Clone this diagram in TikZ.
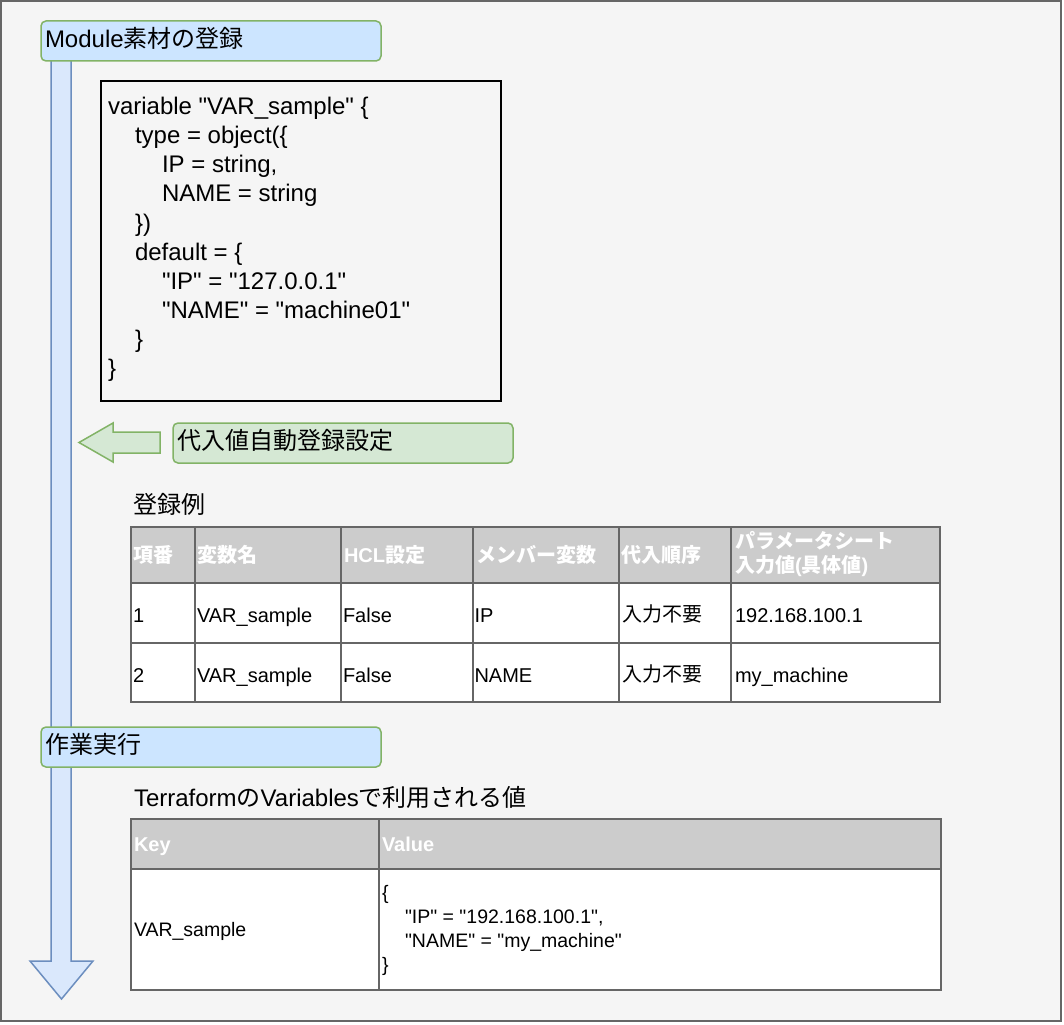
\documentclass[tikz,border=0pt]{standalone}
\usepackage{fontspec}
\setmainfont{Liberation Sans}
\newfontfamily\lat{Liberation Sans}
\newfontfamily\jp{Noto Sans CJK JP}
\newcommand\J[1]{{\jp #1}}
\definecolor{bgc}{HTML}{F5F5F5}
\definecolor{framec}{HTML}{666666}
\definecolor{arrfill}{HTML}{DAE8FC}
\definecolor{arrline}{HTML}{6C8EBF}
\definecolor{bluefill}{HTML}{CCE5FF}
\definecolor{greenfill}{HTML}{D5E8D4}
\definecolor{greenline}{HTML}{82B366}
\definecolor{headfill}{HTML}{CCCCCC}
\tikzset{
  txt/.style={anchor=base west, inner sep=0pt, outer sep=0pt},
  fa/.style={font=\lat\fontsize{24}{29}\selectfont},
  fb/.style={font=\lat\fontsize{20}{24}\selectfont},
  fc/.style={font=\lat\fontsize{19.5}{24}\selectfont},
  hd/.style={txt, text=white, font=\lat\fontsize{20}{24}\selectfont\bfseries},
  stepboxblue/.style={draw=greenline, fill=bluefill, line width=1.5pt, rounded corners=5pt},
  stepboxgreen/.style={draw=greenline, fill=greenfill, line width=1.5pt, rounded corners=5pt},
  grid/.style={draw=framec, line width=2pt},
}
\begin{document}
\begin{tikzpicture}[x=1pt,y=-1pt]
\useasboundingbox (0,0) rectangle (1064,1024);
% outer frame
\draw[fill=bgc, draw=framec, line width=2pt] (1,1) rectangle (1061,1021);
% big down arrow
\draw[fill=arrfill, draw=arrline, line width=1.5pt, line join=miter]
  (51,41) -- (71,41) -- (71,961) -- (93,961) -- (61.5,999) -- (30,961) -- (51,961) -- cycle;
% Module box
\draw[stepboxblue] (41,21) rectangle (381,61);
\node[txt, fa] (modt) at (45,48) {Module\J{素材の登録}};
% code box
\draw[draw=black, line width=2pt] (101,81) rectangle (501,401);
\node[txt, fa] (c1) at (108,115) {variable "VAR\_sample" \{};
\node[txt, fa] (c2) at (135,144) {type = object(\{};
\node[txt, fa] (c3) at (162,173) {IP = string,};
\node[txt, fa] (c4) at (162,202) {NAME = string};
\node[txt, fa] (c5) at (135,231) {\})};
\node[txt, fa] (c6) at (135,260) {default = \{};
\node[txt, fa] (c7) at (162,289) {"IP" = "127.0.0.1"};
\node[txt, fa] (c8) at (162,318) {"NAME" = "machine01"};
\node[txt, fa] (c9) at (135,347) {\}};
\node[txt, fa] (c10) at (108,376) {\}};
% green left arrow
\draw[fill=greenfill, draw=greenline, line width=1.5pt, line join=miter]
  (160,432) -- (113,432) -- (113,423) -- (79,442.5) -- (113,462) -- (113,453) -- (160,453) -- cycle;
\draw[stepboxgreen] (173,423) rectangle (513,463);
\node[txt, fa] (autot) at (177,449) {\J{代入値自動登録設定}};
% table 1 title
\node[txt, fa] (t1title) at (133,513) {\J{登録例}};
% table 1
\fill[headfill] (131,527) rectangle (940,583);
\fill[white] (131,583) rectangle (940,702);
\draw[grid] (131,527) rectangle (940,702);
\draw[grid] (131,583) -- (940,583);
\draw[grid] (131,643) -- (940,643);
\foreach \cx in {195,341,473,619,731} \draw[grid] (\cx,527) -- (\cx,702);
\node[hd] (h1) at (133,562) {\J{項番}};
\node[hd] (h2) at (197,562) {\J{変数名}};
\node[hd] (h3) at (344,562) {HCL\J{設定}};
\node[hd] (h4) at (476,562) {\J{メンバー変数}};
\node[hd] (h5) at (621,562) {\J{代入順序}};
\node[hd] (h6a) at (735,548) {\J{パラメータシート}};
\node[hd] (h6b) at (735,572) {\J{入力値}(\J{具体値})};
\node[txt, fb] (r1a) at (133,622) {1};
\node[txt, fb] (r1b) at (197,622) {VAR\_sample};
\node[txt, fb] (r1c) at (343,622) {False};
\node[txt, fb] (r1d) at (474.5,622) {IP};
\node[txt, fb] (r1e) at (622,621) {\J{入力不要}};
\node[txt, fb] (r1f) at (735,622) {192.168.100.1};
\node[txt, fb] (r2a) at (133,682) {2};
\node[txt, fb] (r2b) at (197,682) {VAR\_sample};
\node[txt, fb] (r2c) at (343,682) {False};
\node[txt, fb] (r2d) at (474.5,682) {NAME};
\node[txt, fb] (r2e) at (622,681) {\J{入力不要}};
\node[txt, fb] (r2f) at (735,682) {my\_machine};
% 作業実行 box
\draw[stepboxblue] (41,727) rectangle (381,767);
\node[txt, fa] (workt) at (45,753) {\J{作業実行}};
% table 2 title
\node[txt, fa] (t2title) at (134,806) {Terraform\J{の}Variables\J{で利用される値}};
% table 2
\fill[headfill] (131,819) rectangle (941,869);
\fill[white] (131,869) rectangle (941,990);
\draw[grid] (131,819) rectangle (941,990);
\draw[grid] (131,869) -- (941,869);
\draw[grid] (379,819) -- (379,990);
\node[hd] (k1) at (134,851) {Key};
\node[hd] (k2) at (382,851) {Value};
\node[txt, fc] (kv) at (134,936) {VAR\_sample};
\node[txt, fc] (v1) at (382,899) {\{};
\node[txt, fc] (v2) at (405,923) {"IP" = "192.168.100.1",};
\node[txt, fc] (v3) at (405,947) {"NAME" = "my\_machine"};
\node[txt, fc] (v4) at (382,971) {\}};
\end{tikzpicture}
\end{document}
